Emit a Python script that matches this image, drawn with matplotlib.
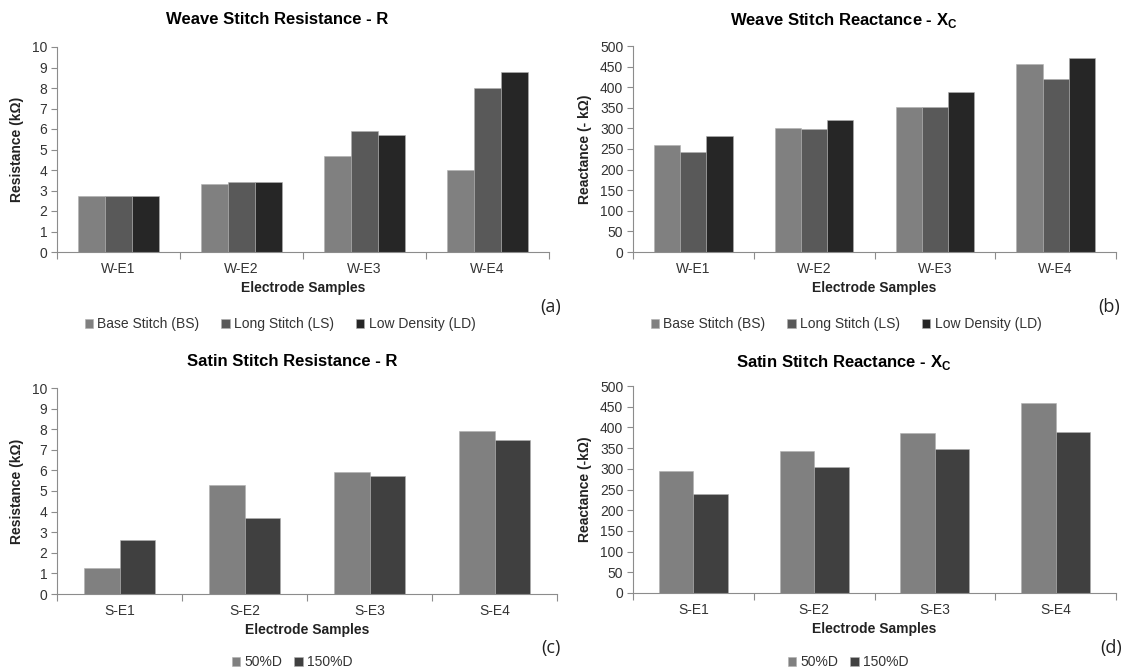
import matplotlib
matplotlib.use("Agg")
import matplotlib.pyplot as plt
import numpy as np

plt.rcParams['font.family'] = ['Liberation Sans', 'DejaVu Sans']
plt.rcParams['mathtext.fontset'] = 'custom'
plt.rcParams['mathtext.rm'] = 'Liberation Sans'
plt.rcParams['mathtext.bf'] = 'Liberation Sans:bold'

# ---------------- data ----------------
weave_cats = ["W-E1", "W-E2", "W-E3", "W-E4"]
satin_cats = ["S-E1", "S-E2", "S-E3", "S-E4"]
weave_series = ["Base Stitch (BS)", "Long Stitch (LS)", "Low Density (LD)"]
satin_series = ["50%D", "150%D"]

weave_R_BS = [2.73, 3.33, 4.68, 3.98]
weave_R_LS = [2.73, 3.42, 5.91, 7.98]
weave_R_LD = [2.73, 3.42, 5.73, 8.76]

weave_X_BS = [260, 302, 352, 456]
weave_X_LS = [243, 298, 352, 420]
weave_X_LD = [282, 321, 389, 472]

satin_R_50 = [1.24, 5.31, 5.91, 7.90]
satin_R_150 = [2.60, 3.69, 5.74, 7.46]

satin_X_50 = [295, 343, 387, 460]
satin_X_150 = [239, 304, 348, 389]

W, H = 1138, 671
fig = plt.figure(figsize=(W / 100, H / 100), dpi=100)

AX_COL = '#8c8c8c'
TXT_COL = '#333333'


def add_ax(x0, y0, x1, y1):
    return fig.add_axes([x0 / W, 1 - y1 / H, (x1 - x0) / W, (y1 - y0) / H])


def style(ax, cats, ymax, ystep, ylabel):
    n = len(cats)
    ax.set_xlim(-0.5, n - 0.5)
    ax.set_ylim(0, ymax)
    ax.set_yticks(np.arange(0, ymax + ystep / 2, ystep))
    ax.set_xticks(range(n))
    ax.set_xticklabels(cats)
    ax.set_xticks(np.arange(-0.5, n, 1.0), minor=True)
    ax.tick_params(axis='x', which='major', length=0, pad=7, labelsize=10, labelcolor=TXT_COL)
    ax.tick_params(axis='x', which='minor', length=5, width=0.8, color=AX_COL, direction='out')
    ax.tick_params(axis='y', length=4, width=0.8, color=AX_COL, labelsize=10, labelcolor=TXT_COL, pad=3)
    for s in ['top', 'right']:
        ax.spines[s].set_visible(False)
    for s in ['left', 'bottom']:
        ax.spines[s].set_color(AX_COL)
        ax.spines[s].set_linewidth(0.8)
    ax.set_ylabel(ylabel, fontsize=10, fontweight='bold', color='#222222', labelpad=6)
    ax.set_xlabel("Electrode Samples", fontsize=10, fontweight='bold', color='#222222', labelpad=4)


def bars(ax, series_vals, colors, group_w):
    n = len(series_vals)
    bw = group_w / n
    x = np.arange(len(series_vals[0]))
    handles = []
    for i, (vals, c) in enumerate(zip(series_vals, colors)):
        off = -group_w / 2 + bw * (i + 0.5)
        h = ax.bar(x + off, vals, width=bw, color=c, edgecolor='#b0b0b0', linewidth=0.4, zorder=2)
        handles.append(h)
    return handles


weave_colors = ['#808080', '#595959', '#262626']
satin_colors = ['#808080', '#404040']

# (a)
ax_a = add_ax(57, 47, 549, 252)
h_a = bars(ax_a, [weave_R_BS, weave_R_LS, weave_R_LD], weave_colors, 0.665)
style(ax_a, weave_cats, 10, 1, "Resistance (k\u03a9)")

# (b)
ax_b = add_ax(633, 46, 1116, 252)
h_b = bars(ax_b, [weave_X_BS, weave_X_LS, weave_X_LD], weave_colors, 0.65)
style(ax_b, weave_cats, 500, 50, "Reactance (- k\u03a9)")

# (c)
ax_c = add_ax(57, 388, 557, 594)
h_c = bars(ax_c, [satin_R_50, satin_R_150], satin_colors, 0.567)
style(ax_c, satin_cats, 10, 1, "Resistance (k\u03a9)")

# (d)
ax_d = add_ax(633, 386, 1116, 593)
h_d = bars(ax_d, [satin_X_50, satin_X_150], satin_colors, 0.57)
style(ax_d, satin_cats, 500, 50, "Reactance (-k\u03a9)")


def ftext(x, y, s, **kw):
    fig.text(x / W, 1 - y / H, s, ha='center', va='center', **kw)


ftext(277, 20, "Weave Stitch Resistance - R", fontsize=12, fontweight='bold')
ftext(844, 20, r"Weave Stitch Reactance - X$_\mathregular{C}$", fontsize=12, fontweight='bold')
ftext(292, 362, "Satin Stitch Resistance - R", fontsize=12, fontweight='bold')
ftext(844, 362, r"Satin Stitch Reactance - X$_\mathregular{C}$", fontsize=12, fontweight='bold')

for lab, x, y in [("(a)", 551, 307), ("(b)", 1109, 307), ("(c)", 551, 648), ("(d)", 1111, 648)]:
    fig.text(x / W, 1 - y / H, lab, ha='center', va='center', fontsize=13,
             family=['Open Sans', 'DejaVu Sans'], color='#222222')


def flegend(handles, labels, x, y, colsp):
    fig.legend(handles, labels, loc='center', bbox_to_anchor=(x / W, 1 - y / H),
               ncol=len(labels), frameon=False, fontsize=10, handlelength=0.6,
               handleheight=0.6, handletextpad=0.3, columnspacing=colsp, labelcolor=TXT_COL)


flegend(h_a, weave_series, 280, 324, 1.6)
flegend(h_b, weave_series, 846, 324, 1.6)
flegend(h_c, satin_series, 292, 662, 0.9)
flegend(h_d, satin_series, 848, 662, 0.9)

fig.savefig("out.png", dpi=100)
